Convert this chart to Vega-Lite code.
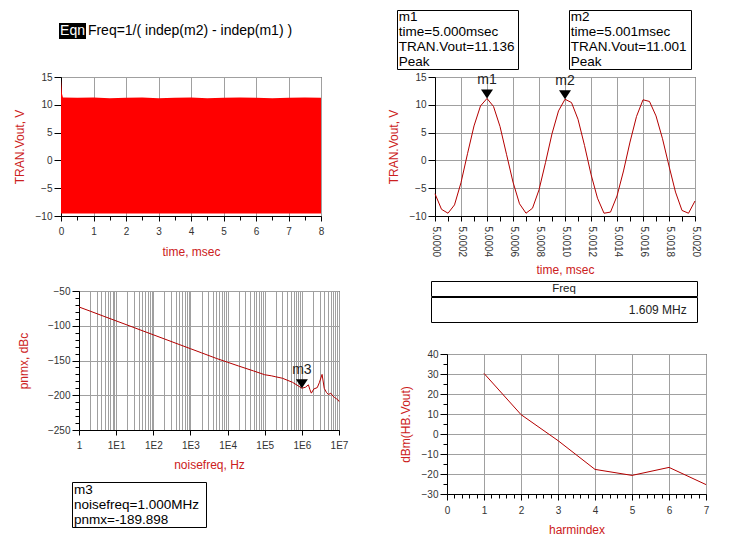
{
  "$schema": "https://vega.github.io/schema/vega-lite/v6.json",
  "padding": 0,
  "spacing": 0,
  "background": "white",
  "datasets": {
    "tl": [
      {"t": 0, "hi": 14.6, "lo": -9.55},
      {"t": 0.03, "hi": 12.0, "lo": -9.55},
      {"t": 0.06, "hi": 11.3, "lo": -9.55},
      {"t": 0.5, "hi": 11.25, "lo": -9.55},
      {"t": 1.0, "hi": 11.3, "lo": -9.55},
      {"t": 1.5, "hi": 11.2, "lo": -9.55},
      {"t": 2.0, "hi": 11.25, "lo": -9.55},
      {"t": 2.5, "hi": 11.3, "lo": -9.55},
      {"t": 3.0, "hi": 11.2, "lo": -9.55},
      {"t": 3.5, "hi": 11.25, "lo": -9.55},
      {"t": 4.0, "hi": 11.3, "lo": -9.55},
      {"t": 4.5, "hi": 11.2, "lo": -9.55},
      {"t": 5.0, "hi": 11.25, "lo": -9.55},
      {"t": 5.5, "hi": 11.3, "lo": -9.55},
      {"t": 6.0, "hi": 11.25, "lo": -9.55},
      {"t": 6.5, "hi": 11.2, "lo": -9.55},
      {"t": 7.0, "hi": 11.25, "lo": -9.55},
      {"t": 7.5, "hi": 11.3, "lo": -9.55},
      {"t": 8.0, "hi": 11.25, "lo": -9.55}
    ],
    "tr": [
      {"t": 5.0, "v": -6.0}, {"t": 5.00005, "v": -8.8}, {"t": 5.0001, "v": -9.5}, {"t": 5.00015, "v": -8.0},
      {"t": 5.0002, "v": -4.0}, {"t": 5.00025, "v": 1.2}, {"t": 5.0003, "v": 6.2}, {"t": 5.00035, "v": 9.8},
      {"t": 5.0004, "v": 11.136}, {"t": 5.00045, "v": 9.7}, {"t": 5.0005, "v": 6.1}, {"t": 5.00055, "v": 1.1},
      {"t": 5.0006, "v": -3.9}, {"t": 5.00065, "v": -7.8}, {"t": 5.0007, "v": -9.5}, {"t": 5.00075, "v": -8.6},
      {"t": 5.0008, "v": -5.3}, {"t": 5.00085, "v": -0.4}, {"t": 5.0009, "v": 4.8}, {"t": 5.00095, "v": 8.9},
      {"t": 5.001, "v": 11.001}, {"t": 5.00105, "v": 10.4}, {"t": 5.0011, "v": 7.4}, {"t": 5.00115, "v": 2.7},
      {"t": 5.0012, "v": -2.5}, {"t": 5.00125, "v": -6.8}, {"t": 5.0013, "v": -9.5}, {"t": 5.00135, "v": -9.3},
      {"t": 5.0014, "v": -6.4}, {"t": 5.00145, "v": -1.9}, {"t": 5.0015, "v": 3.3}, {"t": 5.00155, "v": 7.9},
      {"t": 5.0016, "v": 10.9}, {"t": 5.00165, "v": 10.6}, {"t": 5.0017, "v": 8.0}, {"t": 5.00175, "v": 3.9},
      {"t": 5.0018, "v": -1.0}, {"t": 5.00185, "v": -5.7}, {"t": 5.0019, "v": -9.0}, {"t": 5.00195, "v": -9.5},
      {"t": 5.002, "v": -7.3}
    ],
    "trm": [
      {"t": 5.0004, "v": 11.136, "m": "m1"},
      {"t": 5.001, "v": 11.001, "m": "m2"}
    ],
    "bl": [
      {"f": 1, "p": -73}, {"f": 2, "p": -79}, {"f": 5, "p": -87}, {"f": 10, "p": -93},
      {"f": 20, "p": -99}, {"f": 50, "p": -107}, {"f": 100, "p": -113}, {"f": 200, "p": -119},
      {"f": 500, "p": -127}, {"f": 1000, "p": -133}, {"f": 2000, "p": -139}, {"f": 5000, "p": -147},
      {"f": 10000, "p": -152.5}, {"f": 20000, "p": -158}, {"f": 50000, "p": -165}, {"f": 100000, "p": -170.5},
      {"f": 150000, "p": -172}, {"f": 200000, "p": -173.5}, {"f": 300000, "p": -175.5}, {"f": 560000, "p": -181.4},
      {"f": 800000, "p": -186.5}, {"f": 1000000, "p": -189.898}, {"f": 1250000, "p": -188.5}, {"f": 1500000, "p": -185},
      {"f": 1650000, "p": -192}, {"f": 1800000, "p": -197}, {"f": 2100000, "p": -191}, {"f": 2600000, "p": -189},
      {"f": 2950000, "p": -182}, {"f": 3500000, "p": -170}, {"f": 4000000, "p": -190}, {"f": 4600000, "p": -196},
      {"f": 5200000, "p": -199}, {"f": 6000000, "p": -197}, {"f": 6800000, "p": -201}, {"f": 7500000, "p": -203},
      {"f": 8500000, "p": -205}, {"f": 9200000, "p": -206}, {"f": 10000000, "p": -209}
    ],
    "blm": [
      {"f": 1000000, "p": -189.898, "m": "m3"}
    ],
    "br": [
      {"h": 1, "d": 30.3}, {"h": 2, "d": 9.7}, {"h": 3, "d": -3.3}, {"h": 4, "d": -17.7},
      {"h": 5, "d": -20.7}, {"h": 6, "d": -16.7}, {"h": 7, "d": -25.3}
    ]
  },
  "hconcat": [
    {
      "spacing": 0,
      "vconcat": [
        {"width": 380, "height": 23, "data": {"values": [{}]}, "mark": {"type": "text", "text": "", "fontSize": 0}},
        {
          "spacing": 0,
          "hconcat": [
            {"width": 59, "height": 1, "data": {"values": [{}]}, "mark": {"type": "text", "text": "", "fontSize": 0}},
            {
              "width": 27, "height": 16,
              "view": {"fill": "black", "stroke": null},
              "data": {"values": [{"s": "Eqn"}]},
              "mark": {"type": "text", "fontSize": 14, "color": "white", "baseline": "middle"},
              "encoding": {"text": {"field": "s"}}
            },
            {"width": 1, "height": 1, "data": {"values": [{}]}, "mark": {"type": "text", "text": "", "fontSize": 0}},
            {
              "width": 206, "height": 16,
              "data": {"values": [{"s": "Freq=1/( indep(m2) - indep(m1) )"}]},
              "mark": {"type": "text", "fontSize": 14, "color": "black", "baseline": "middle"},
              "encoding": {"text": {"field": "s"}}
            }
          ]
        },
        {"width": 1, "height": 32, "data": {"values": [{}]}, "mark": {"type": "text", "text": "", "fontSize": 0}},
        {
          "spacing": 0,
          "hconcat": [
            {"width": 12, "height": 1, "data": {"values": [{}]}, "mark": {"type": "text", "text": "", "fontSize": 0}},
            {
              "width": 260, "height": 139,
              "view": {"stroke": "black", "strokeWidth": 1},
              "data": {"name": "tl"},
              "mark": {"type": "area", "color": "#ff0000", "opacity": 1},
              "encoding": {
                "x": {
                  "field": "t", "type": "quantitative",
                  "scale": {"domain": [0, 8], "nice": false, "zero": false},
                  "axis": {
                    "title": "time, msec",
                    "values": [0, 0.5, 1, 1.5, 2, 2.5, 3, 3.5, 4, 4.5, 5, 5.5, 6, 6.5, 7, 7.5, 8],
                    "labelExpr": "datum.value % 1 === 0 ? format(datum.value, 'd') : ''",
                    "labelOverlap": false,
                    "tickSize": {"condition": {"test": "datum.value % 1 !== 0", "value": 4}, "value": 5},
                    "gridOpacity": {"condition": {"test": "datum.value % 1 !== 0", "value": 0}, "value": 1},
                    "minExtent": 20, "maxExtent": 20, "titlePadding": 10
                  }
                },
                "y": {
                  "field": "hi", "type": "quantitative",
                  "scale": {"domain": [-10, 15], "nice": false, "zero": false},
                  "axis": {
                    "title": "TRAN.Vout, V",
                    "values": [-10, -5, 0, 5, 10, 15],
                    "labelOverlap": false,
                    "minExtent": 24, "maxExtent": 24, "titlePadding": 11
                  }
                },
                "y2": {"field": "lo"}
              }
            }
          ]
        },
        {"width": 1, "height": 27, "data": {"values": [{}]}, "mark": {"type": "text", "text": "", "fontSize": 0}},
        {
          "spacing": 0,
          "hconcat": [
            {"width": 16, "height": 1, "data": {"values": [{}]}, "mark": {"type": "text", "text": "", "fontSize": 0}},
            {
              "width": 260, "height": 139,
              "view": {"stroke": "black", "strokeWidth": 1},
              "encoding": {
                "x": {
                  "field": "f", "type": "quantitative",
                  "scale": {"type": "log", "domain": [1, 10000000], "nice": false},
                  "axis": {
                    "title": "noisefreq, Hz",
                    "values": [1,2,3,4,5,6,7,8,9,10,20,30,40,50,60,70,80,90,100,200,300,400,500,600,700,800,900,1000,2000,3000,4000,5000,6000,7000,8000,9000,10000,20000,30000,40000,50000,60000,70000,80000,90000,100000,200000,300000,400000,500000,600000,700000,800000,900000,1000000,2000000,3000000,4000000,5000000,6000000,7000000,8000000,9000000,10000000],
                    "labelExpr": "abs(log(datum.value)/LN10 - round(log(datum.value)/LN10)) < 0.001 ? (datum.value < 1.5 ? '1' : '1E' + round(log(datum.value)/LN10)) : ''",
                    "labelOverlap": false,
                    "tickSize": {"condition": {"test": "abs(log(datum.value)/LN10 - round(log(datum.value)/LN10)) > 0.001", "value": 0}, "value": 5},
                    "minExtent": 20, "maxExtent": 20, "titlePadding": 9
                  }
                },
                "y": {
                  "field": "p", "type": "quantitative",
                  "scale": {"domain": [-250, -50], "nice": false, "zero": false},
                  "axis": {
                    "title": "pnmx, dBc",
                    "values": [-250,-240,-230,-220,-210,-200,-190,-180,-170,-160,-150,-140,-130,-120,-110,-100,-90,-80,-70,-60,-50],
                    "labelExpr": "datum.value % 50 === 0 ? format(datum.value, 'd') : ''",
                    "labelOverlap": false,
                    "tickSize": {"condition": {"test": "datum.value % 50 !== 0", "value": 4}, "value": 7},
                    "gridOpacity": {"condition": {"test": "datum.value % 50 !== 0", "value": 0}, "value": 1},
                    "minExtent": 30, "maxExtent": 30, "titlePadding": 19
                  }
                }
              },
              "layer": [
                {
                  "data": {"name": "bl"},
                  "mark": {"type": "line", "color": "#b40000", "strokeWidth": 1}
                },
                {
                  "data": {"name": "blm"},
                  "mark": {"type": "point", "shape": "M0,0L-1,-1.5L1,-1.5Z", "filled": true, "fill": "black", "strokeWidth": 0, "size": 144, "opacity": 1}
                },
                {
                  "data": {"name": "blm"},
                  "mark": {"type": "text", "dy": -14, "baseline": "alphabetic", "fontSize": 14, "color": "#222"},
                  "encoding": {"text": {"field": "m"}}
                }
              ]
            }
          ]
        },
        {"width": 1, "height": 10, "data": {"values": [{}]}, "mark": {"type": "text", "text": "", "fontSize": 0}},
        {
          "spacing": 0,
          "hconcat": [
            {"width": 71, "height": 1, "data": {"values": [{}]}, "mark": {"type": "text", "text": "", "fontSize": 0}},
            {
              "width": 134, "height": 45,
              "view": {"stroke": "black", "strokeWidth": 1},
              "data": {"values": [{"i": 0, "s": "m3"}, {"i": 1, "s": "noisefreq=1.000MHz"}, {"i": 2, "s": "pnmx=-189.898"}]},
              "mark": {"type": "text", "align": "left", "baseline": "middle", "fontSize": 13.5, "color": "black"},
              "encoding": {
                "x": {"datum": 0, "type": "quantitative", "scale": {"domain": [-0.015, 1], "nice": false, "zero": false}, "axis": null},
                "y": {"field": "i", "type": "ordinal", "axis": null},
                "text": {"field": "s"}
              }
            }
          ]
        }
      ]
    },
    {
      "spacing": 0,
      "vconcat": [
        {"width": 1, "height": 9, "data": {"values": [{}]}, "mark": {"type": "text", "text": "", "fontSize": 0}},
        {
          "spacing": 0,
          "hconcat": [
            {"width": 16, "height": 1, "data": {"values": [{}]}, "mark": {"type": "text", "text": "", "fontSize": 0}},
            {
              "width": 121, "height": 59,
              "view": {"stroke": "black", "strokeWidth": 1},
              "data": {"values": [{"i": 0, "s": "m1"}, {"i": 1, "s": "time=5.000msec"}, {"i": 2, "s": "TRAN.Vout=11.136"}, {"i": 3, "s": "Peak"}]},
              "mark": {"type": "text", "align": "left", "baseline": "middle", "fontSize": 13.5, "color": "black"},
              "encoding": {
                "x": {"datum": 0, "type": "quantitative", "scale": {"domain": [-0.015, 1], "nice": false, "zero": false}, "axis": null},
                "y": {"field": "i", "type": "ordinal", "axis": null},
                "text": {"field": "s"}
              }
            },
            {"width": 49, "height": 1, "data": {"values": [{}]}, "mark": {"type": "text", "text": "", "fontSize": 0}},
            {
              "width": 122, "height": 59,
              "view": {"stroke": "black", "strokeWidth": 1},
              "data": {"values": [{"i": 0, "s": "m2"}, {"i": 1, "s": "time=5.001msec"}, {"i": 2, "s": "TRAN.Vout=11.001"}, {"i": 3, "s": "Peak"}]},
              "mark": {"type": "text", "align": "left", "baseline": "middle", "fontSize": 13.5, "color": "black"},
              "encoding": {
                "x": {"datum": 0, "type": "quantitative", "scale": {"domain": [-0.015, 1], "nice": false, "zero": false}, "axis": null},
                "y": {"field": "i", "type": "ordinal", "axis": null},
                "text": {"field": "s"}
              }
            }
          ]
        },
        {"width": 1, "height": 1, "data": {"values": [{}]}, "mark": {"type": "text", "text": "", "fontSize": 0}},
        {
          "spacing": 0,
          "hconcat": [
            {"width": 6, "height": 1, "data": {"values": [{}]}, "mark": {"type": "text", "text": "", "fontSize": 0}},
            {
              "width": 260, "height": 139,
              "view": {"stroke": "black", "strokeWidth": 1},
              "encoding": {
                "x": {
                  "field": "t", "type": "quantitative",
                  "scale": {"domain": [5.0, 5.002], "nice": false, "zero": false},
                  "axis": {
                    "title": "time, msec",
                    "values": [5.0, 5.0001, 5.0002, 5.0003, 5.0004, 5.0005, 5.0006, 5.0007, 5.0008, 5.0009, 5.001, 5.0011, 5.0012, 5.0013, 5.0014, 5.0015, 5.0016, 5.0017, 5.0018, 5.0019, 5.002],
                    "labelExpr": "round(datum.value * 10000) % 2 === 0 ? format(datum.value, '.4f') : ''",
                    "labelAngle": 90,
                    "labelOverlap": false,
                    "gridOpacity": {"condition": {"test": "round(datum.value * 10000) % 2 === 1", "value": 0}, "value": 1},
                    "minExtent": 41, "maxExtent": 41, "titlePadding": 7
                  }
                },
                "y": {
                  "field": "v", "type": "quantitative",
                  "scale": {"domain": [-10, 15], "nice": false, "zero": false},
                  "axis": {
                    "title": "TRAN.Vout, V",
                    "values": [-10, -5, 0, 5, 10, 15],
                    "labelOverlap": false,
                    "minExtent": 24, "maxExtent": 24, "titlePadding": 11
                  }
                }
              },
              "layer": [
                {
                  "data": {"name": "tr"},
                  "mark": {"type": "line", "color": "#b40000", "strokeWidth": 1}
                },
                {
                  "data": {"name": "trm"},
                  "mark": {"type": "point", "shape": "M0,0L-1,-1.5L1,-1.5Z", "filled": true, "fill": "black", "strokeWidth": 0, "size": 144, "opacity": 1}
                },
                {
                  "data": {"name": "trm"},
                  "mark": {"type": "text", "dy": -14, "baseline": "alphabetic", "fontSize": 14, "color": "#222"},
                  "encoding": {"text": {"field": "m"}}
                }
              ]
            }
          ]
        },
        {"width": 1, "height": 4, "data": {"values": [{}]}, "mark": {"type": "text", "text": "", "fontSize": 0}},
        {
          "spacing": 0,
          "hconcat": [
            {"width": 50, "height": 1, "data": {"values": [{}]}, "mark": {"type": "text", "text": "", "fontSize": 0}},
            {
              "spacing": -2,
              "vconcat": [
                {
                  "width": 266, "height": 15,
                  "view": {"stroke": "black", "strokeWidth": 1},
                  "data": {"values": [{"s": "Freq"}]},
                  "mark": {"type": "text", "fontSize": 11.5, "color": "#222", "baseline": "middle"},
                  "encoding": {"text": {"field": "s"}}
                },
                {
                  "width": 266, "height": 25,
                  "view": {"stroke": "black", "strokeWidth": 1},
                  "data": {"values": [{"s": "1.609 MHz"}]},
                  "mark": {"type": "text", "fontSize": 12, "color": "#222", "align": "right", "baseline": "middle"},
                  "encoding": {
                    "x": {"datum": 1, "type": "quantitative", "scale": {"domain": [0, 1.04], "nice": false, "zero": false}, "axis": null},
                    "text": {"field": "s"}
                  }
                }
              ]
            }
          ]
        },
        {"width": 1, "height": 25, "data": {"values": [{}]}, "mark": {"type": "text", "text": "", "fontSize": 0}},
        {
          "spacing": 0,
          "hconcat": [
            {"width": 18, "height": 1, "data": {"values": [{}]}, "mark": {"type": "text", "text": "", "fontSize": 0}},
            {
              "width": 259, "height": 140,
              "view": {"stroke": "black", "strokeWidth": 1},
              "data": {"name": "br"},
              "mark": {"type": "line", "color": "#b40000", "strokeWidth": 1},
              "encoding": {
                "x": {
                  "field": "h", "type": "quantitative",
                  "scale": {"domain": [0, 7], "nice": false, "zero": false},
                  "axis": {
                    "title": "harmindex",
                    "values": [0,0.2,0.4,0.6,0.8,1,1.2,1.4,1.6,1.8,2,2.2,2.4,2.6,2.8,3,3.2,3.4,3.6,3.8,4,4.2,4.4,4.6,4.8,5,5.2,5.4,5.6,5.8,6,6.2,6.4,6.6,6.8,7],
                    "labelExpr": "abs(datum.value - round(datum.value)) < 0.01 ? format(datum.value, 'd') : ''",
                    "labelOverlap": false,
                    "tickSize": {"condition": {"test": "abs(datum.value - round(datum.value)) > 0.01", "value": 4}, "value": 6},
                    "gridOpacity": {"condition": {"test": "abs(datum.value - round(datum.value)) > 0.01", "value": 0}, "value": 1},
                    "minExtent": 20, "maxExtent": 20, "titlePadding": 10
                  }
                },
                "y": {
                  "field": "d", "type": "quantitative",
                  "scale": {"domain": [-30, 40], "nice": false, "zero": false},
                  "axis": {
                    "title": "dBm(HB.Vout)",
                    "values": [-30,-25,-20,-15,-10,-5,0,5,10,15,20,25,30,35,40],
                    "labelExpr": "datum.value % 10 === 0 ? format(datum.value, 'd') : ''",
                    "labelOverlap": false,
                    "tickSize": {"condition": {"test": "datum.value % 10 !== 0", "value": 4}, "value": 7},
                    "gridOpacity": {"condition": {"test": "datum.value % 10 !== 0", "value": 0}, "value": 1},
                    "minExtent": 24, "maxExtent": 24, "titlePadding": 11
                  }
                }
              }
            }
          ]
        }
      ]
    }
  ],
  "config": {
    "view": {"stroke": null},
    "font": "Liberation Sans",
    "text": {"font": "Liberation Sans"},
    "axis": {
      "labelFont": "Liberation Sans",
      "labelFontSize": 10,
      "labelColor": "#333333",
      "titleFont": "Liberation Sans",
      "titleFontSize": 12,
      "titleFontWeight": "normal",
      "titleColor": "#cc2020",
      "domainColor": "#000000",
      "tickColor": "#000000",
      "gridColor": "#a0a0a0",
      "gridWidth": 1,
      "labelOverlap": false,
      "labelFlush": false,
      "labelPadding": 2,
      "tickSize": 7
    },
    "axisX": {"labelPadding": 5, "tickSize": 5}
  }
}
